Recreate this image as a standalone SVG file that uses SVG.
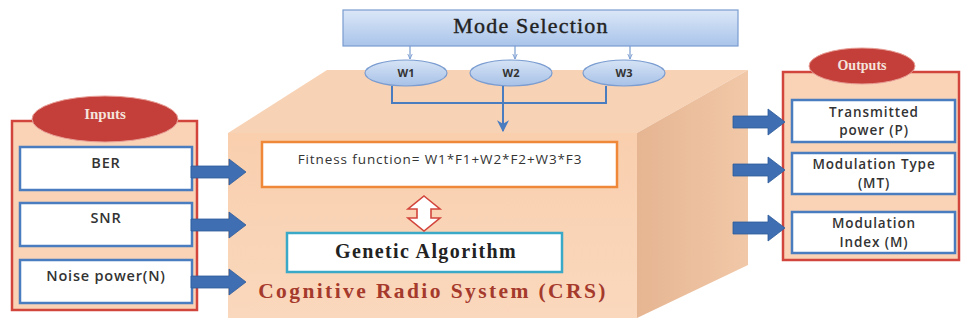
<svg xmlns="http://www.w3.org/2000/svg" width="962" height="323" viewBox="0 0 962 323">
<defs>
<linearGradient id="gMode" x1="0" y1="0" x2="0" y2="1"><stop offset="0" stop-color="#dbe7f7"/><stop offset="1" stop-color="#a9c4ea"/></linearGradient>
<linearGradient id="gW" x1="0" y1="0" x2="0" y2="1"><stop offset="0" stop-color="#d6e3f5"/><stop offset="1" stop-color="#a7c1e7"/></linearGradient>
<linearGradient id="gFront" x1="0" y1="0" x2="0" y2="1"><stop offset="0" stop-color="#f9cfae"/><stop offset="1" stop-color="#fad8bd"/></linearGradient>
<linearGradient id="gRight" x1="0" y1="0" x2="1" y2="0"><stop offset="0" stop-color="#e6b592"/><stop offset="1" stop-color="#f1c8a8"/></linearGradient>
<marker id="ah" viewBox="0 0 10 10" refX="9" refY="5" markerWidth="6" markerHeight="6" orient="auto"><path d="M0,0 L10,5 L0,10 L3,5 Z" fill="#4a7cc0"/></marker>
<marker id="ahs" viewBox="0 0 10 10" refX="9" refY="5" markerWidth="5" markerHeight="5" orient="auto"><path d="M0,1 L9,5 L0,9" fill="none" stroke="#7a9cd0" stroke-width="1.5"/></marker>
</defs>
<style>
.panel{fill:#fad3b6;stroke:#d2453c;stroke-width:2.5}
.box{fill:#fff;stroke:#4a7cc0;stroke-width:2.5}
.redEll{fill:#c43f39;stroke:#e8a098;stroke-width:1}
.wEll{fill:url(#gW);stroke:#7a9cd0;stroke-width:1.2}
.sans{font-family:"Open Sans","Liberation Sans",sans-serif;fill:#333}
.in{font-size:14.5px;letter-spacing:0.8px;font-weight:600}
.out{font-size:13.5px;letter-spacing:0.9px;font-weight:600}
.serif{font-family:"Liberation Serif","DejaVu Serif",serif}
.barrow{fill:#3f6fb2;stroke:#2f5c9a;stroke-width:0.8}
.conn{fill:none;stroke:#4a7cc0;stroke-width:2}
</style>
<rect width="962" height="323" fill="#fff"/>

<g id="cube">
<polygon points="228,133 327,70 748,70 637,133" fill="#f8d2b4"/>
<polygon points="637,133 748,70 748,265 637,318" fill="url(#gRight)"/>
<rect x="228" y="133" width="409" height="185" fill="url(#gFront)"/>
<text class="serif" x="433" y="298" text-anchor="middle" font-size="21.5" font-weight="bold" fill="#a53a2c" letter-spacing="2.4">Cognitive Radio System (CRS)</text>
</g>

<g id="mode-selection">
<rect x="343" y="10" width="395" height="36" fill="url(#gMode)" stroke="#7a9cd0" stroke-width="1.2"/>
<text class="serif" x="531" y="33" text-anchor="middle" font-size="22" fill="#222" stroke="#222" stroke-width="0.4" letter-spacing="1.2">Mode Selection</text>
</g>

<g id="w1"><ellipse class="wEll" cx="406" cy="73" rx="41" ry="13"/><text class="sans" x="406" y="77" text-anchor="middle" font-size="11" font-weight="bold">W1</text></g>
<g id="w2"><ellipse class="wEll" cx="511" cy="73" rx="41" ry="13"/><text class="sans" x="511" y="77" text-anchor="middle" font-size="11" font-weight="bold">W2</text></g>
<g id="w3"><ellipse class="wEll" cx="624" cy="73" rx="41" ry="13"/><text class="sans" x="624" y="77" text-anchor="middle" font-size="11" font-weight="bold">W3</text></g>

<g id="fitness">
<rect x="262" y="142" width="355" height="45" fill="#fff" stroke="#f0883a" stroke-width="2.5"/>
<text class="sans" x="440" y="164" text-anchor="middle" font-size="13.5" letter-spacing="0.9">Fitness function= W1*F1+W2*F2+W3*F3</text>
</g>

<g id="genetic">
<rect x="287" y="233" width="275" height="39" fill="#fff" stroke="#3aa9c8" stroke-width="2.5"/>
<text class="serif" x="426" y="258" text-anchor="middle" font-size="20" font-weight="bold" fill="#222" letter-spacing="1.4">Genetic Algorithm</text>
</g>

<g id="inputs">
<rect class="panel" x="12" y="121" width="185" height="189"/>
<ellipse class="redEll" cx="105" cy="119" rx="73" ry="23"/>
<text class="serif" x="105" y="119" text-anchor="middle" font-size="15" font-weight="bold" fill="#f4e4dc">Inputs</text>
</g>
<g id="ber"><rect class="box" x="20" y="147" width="172" height="43"/><text class="sans in" x="106" y="168" text-anchor="middle">BER</text></g>
<g id="snr"><rect class="box" x="20" y="203" width="172" height="43"/><text class="sans in" x="106" y="223" text-anchor="middle">SNR</text></g>
<g id="noise"><rect class="box" x="20" y="260" width="172" height="43"/><text class="sans in" x="106" y="281" text-anchor="middle">Noise power(N)</text></g>

<g id="outputs">
<rect class="panel" x="783" y="72" width="176" height="188"/>
<ellipse class="redEll" cx="862" cy="66" rx="53" ry="18"/>
<text class="serif" x="862" y="70" text-anchor="middle" font-size="14" font-weight="bold" fill="#f4e4dc">Outputs</text>
</g>
<g id="tx-power"><rect class="box" x="792" y="100" width="163" height="42"/><text class="sans out" x="874" y="117" text-anchor="middle">Transmitted</text><text class="sans out" x="874" y="135" text-anchor="middle">power (P)</text></g>
<g id="mod-type"><rect class="box" x="792" y="153" width="163" height="41"/><text class="sans out" x="874" y="169" text-anchor="middle">Modulation Type</text><text class="sans out" x="874" y="188" text-anchor="middle">(MT)</text></g>
<g id="mod-index"><rect class="box" x="792" y="212" width="163" height="41"/><text class="sans out" x="874" y="228" text-anchor="middle">Modulation</text><text class="sans out" x="874" y="247" text-anchor="middle">Index (M)</text></g>

<g id="connectors">
<line x1="410" y1="46" x2="410" y2="59" stroke="#7a9cd0" stroke-width="1.2" marker-end="url(#ahs)"/>
<line x1="515" y1="46" x2="515" y2="59" stroke="#7a9cd0" stroke-width="1.2" marker-end="url(#ahs)"/>
<line x1="630" y1="46" x2="630" y2="59" stroke="#7a9cd0" stroke-width="1.2" marker-end="url(#ahs)"/>
<polyline class="conn" points="392,86 392,103 606,103 606,86"/>
<line class="conn" x1="503" y1="86" x2="503" y2="131" marker-end="url(#ah)"/>
<path d="M424,196 L440,209 L431,209 L431,218 L440,218 L424,231 L408,218 L417,218 L417,209 L408,209 Z" fill="#fff" stroke="#d2453c" stroke-width="1.6"/>
<path class="barrow" d="M191,166 L229,166 L229,159 L246,172 L229,185 L229,178 L191,178 Z"/>
<path class="barrow" d="M191,219 L229,219 L229,212 L246,225 L229,238 L229,231 L191,231 Z"/>
<path class="barrow" d="M191,276 L229,276 L229,269 L246,282 L229,295 L229,288 L191,288 Z"/>
<path class="barrow" d="M733,116 L768,116 L768,109 L785,122 L768,135 L768,128 L733,128 Z"/>
<path class="barrow" d="M733,164 L768,164 L768,157 L785,170 L768,183 L768,176 L733,176 Z"/>
<path class="barrow" d="M733,222 L768,222 L768,215 L785,228 L768,241 L768,234 L733,234 Z"/>
</g>
</svg>
